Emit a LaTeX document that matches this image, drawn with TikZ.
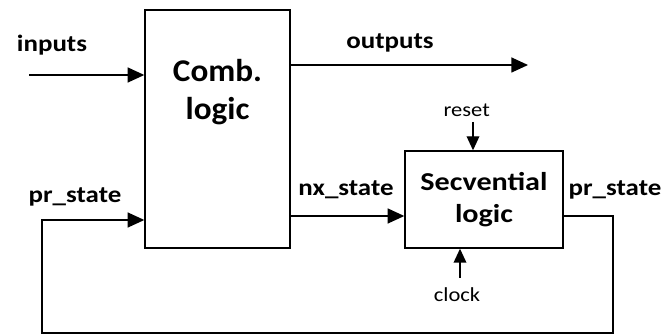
\documentclass[tikz,border=0pt]{standalone}
\usepackage{fontspec}
\setmainfont{Carlito}
\newfontfamily\sigfont[FakeStretch=1.15]{Carlito}
\newfontfamily\pinfont[FakeStretch=1.13]{Carlito}
\newfontfamily\seqfont[FakeStretch=1.17]{Carlito}
\newfontfamily\combfont[FakeStretch=1.05]{Carlito}
\usetikzlibrary{arrows.meta}

\begin{document}
\begin{tikzpicture}[
  line width=1.2pt,
  block/.style={draw, line width=1.2pt, fill=white},
  flow/.style={-{Triangle[length=5mm, width=4.5mm]}},
  ctrl/.style={-{Triangle[length=4.2mm, width=3.8mm]}},
  sig/.style={font=\sigfont\bfseries\fontsize{20}{24}\selectfont},
  pin/.style={font=\pinfont\fontsize{17}{20}\selectfont},
  title/.style={font=\combfont\bfseries\fontsize{27}{33}\selectfont, align=center}
]
  \useasboundingbox (0,0) rectangle (20.1,10.08);

  % the two blocks
  \node[block, minimum width=4.35cm, minimum height=7.14cm] (comb) at (6.525,6.21) {};
  \node[title] (combtxt) at (6.525,7.32) {Comb.\\logic};
  \node[block, minimum width=4.74cm, minimum height=2.91cm, align=center,
        font=\seqfont\bfseries\fontsize{22}{27}\selectfont] (seq) at (14.52,4.095) {Secvential\\logic};

  % free ends
  \coordinate (in)    at (0.87,7.83);
  \coordinate (out)   at (15.84,8.13);
  \coordinate (rst)   at (14.19,6.42);
  \coordinate (clk)   at (13.8,1.74);
  \coordinate (loopR) at (18.39,0.09);
  \coordinate (loopL) at (1.26,0.09);

  % signals
  \draw[flow] (in) -- (in -| comb.west);
  \draw[flow] (comb.east |- out) -- (out);
  \draw[flow] (comb.east |- 0,3.6) -- (seq.west |- 0,3.6);
  \draw[ctrl] (rst) -- (rst |- seq.north);
  \draw[ctrl] (clk) -- (clk |- seq.south);
  \draw[flow] (seq.east |- 0,3.6) -| (loopR) -- (loopL) |- (comb.west |- 0,3.48);

  % labels
  \node[sig] (lin)   at (1.56,8.73)  {inputs};
  \node[sig] (lout)  at (11.7,8.79)  {outputs};
  \node[sig] (lprl)  at (2.25,4.17)  {pr\_state};
  \node[sig] (lnx)   at (10.38,4.38) {nx\_state};
  \node[sig] (lprr)  at (18.45,4.38) {pr\_state};
  \node[pin] (lrst)  at (14.0,6.78)  {reset};
  \node[pin] (lclk)  at (13.71,1.23) {clock};
\end{tikzpicture}
\end{document}
